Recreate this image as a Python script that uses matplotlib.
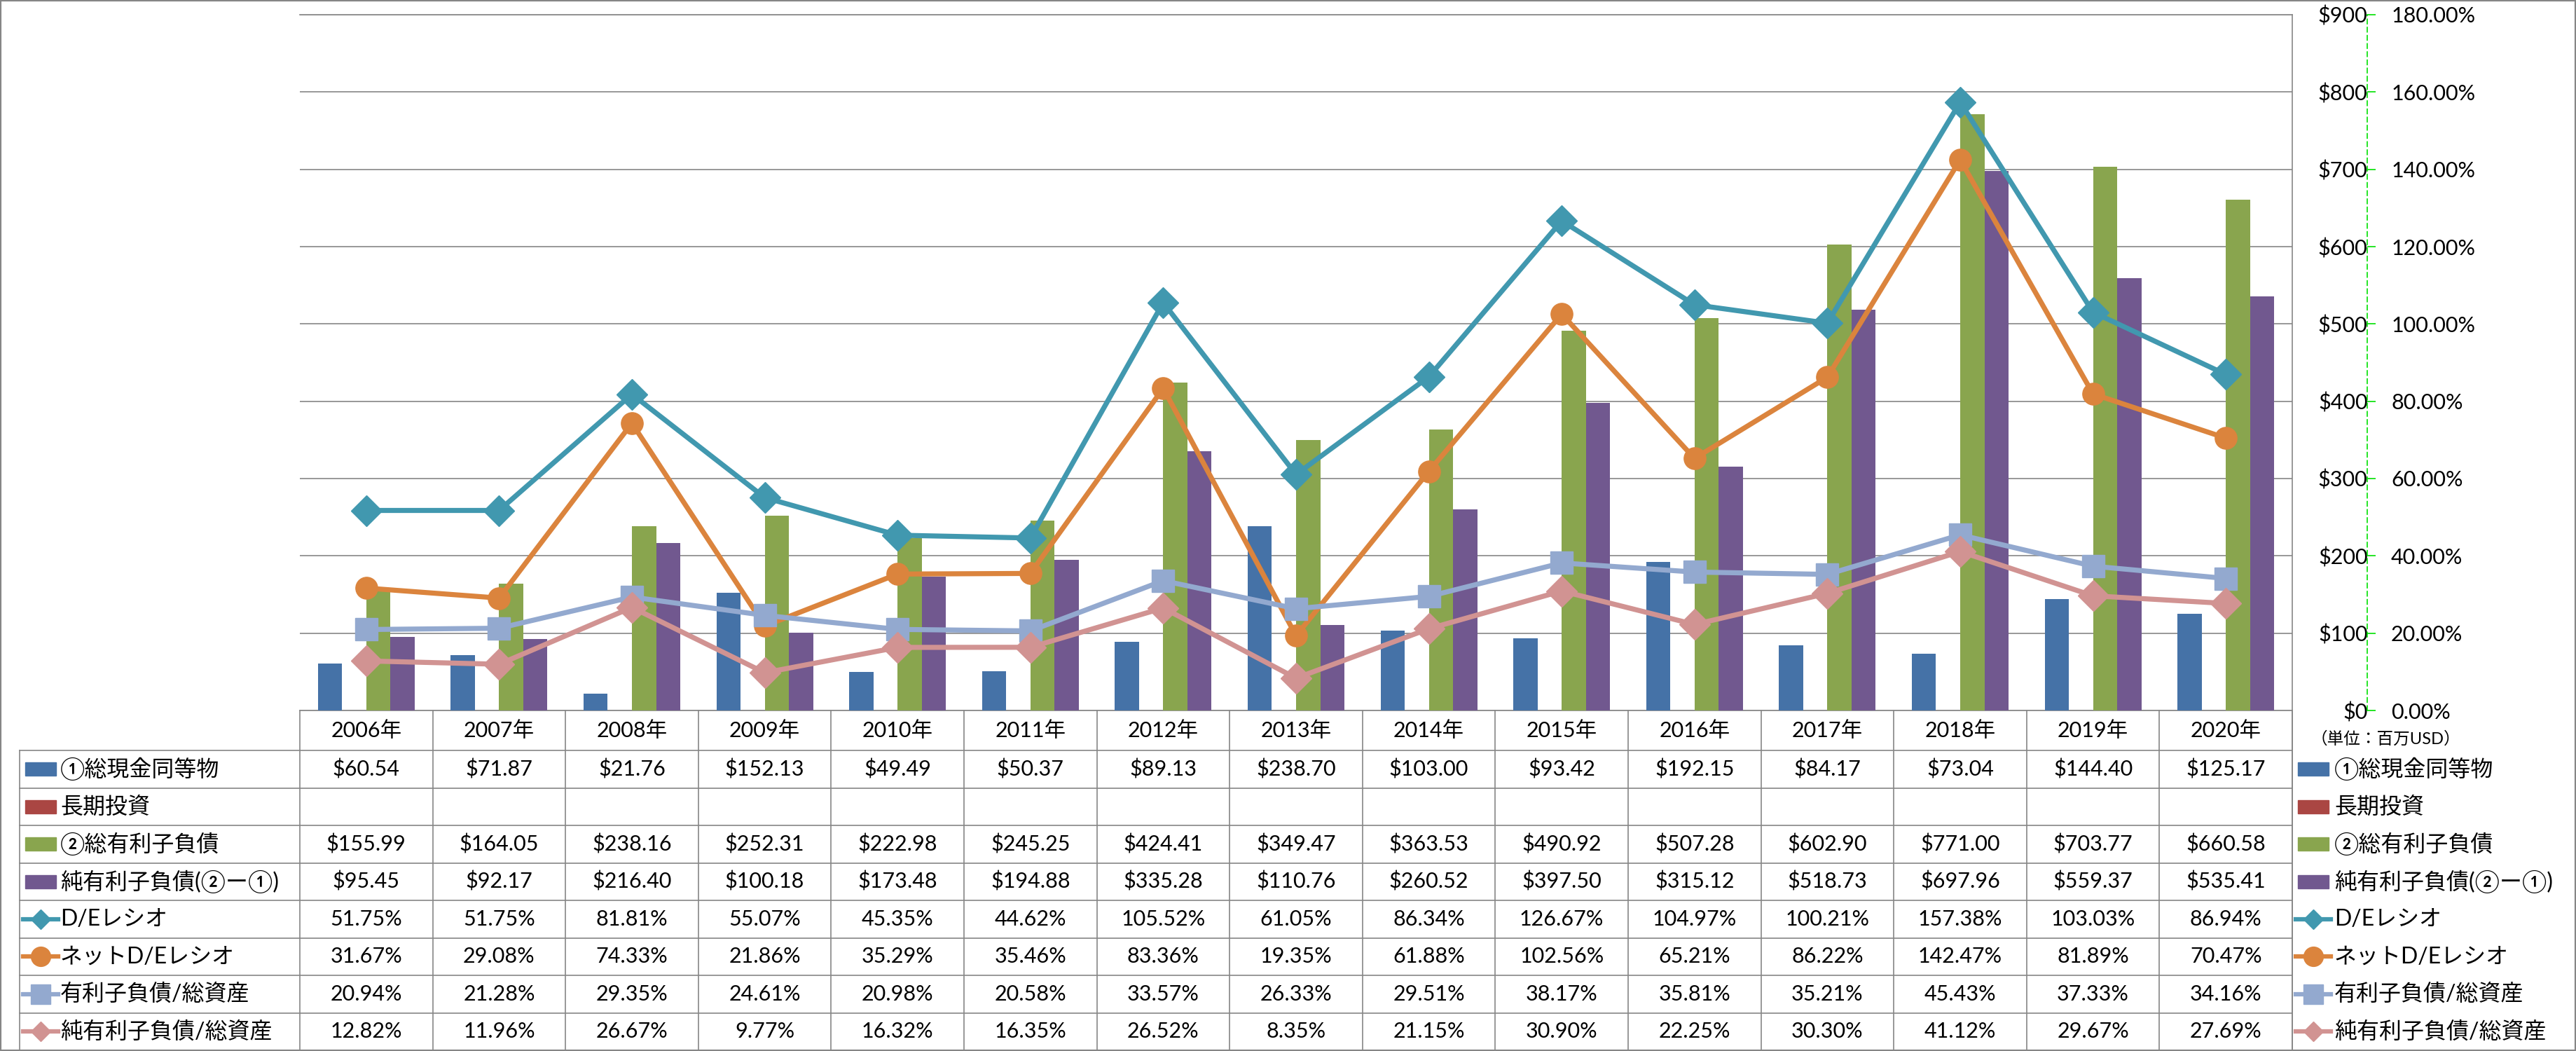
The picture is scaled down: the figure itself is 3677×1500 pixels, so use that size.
import matplotlib.pyplot as plt
import matplotlib.transforms as mtransforms
from matplotlib.lines import Line2D
from matplotlib.patches import Rectangle
import numpy as np

plt.rcParams['font.family'] = ['Lato', 'Noto Sans CJK JP', 'DejaVu Sans']

# データ（単位：百万USD / %）
years = ['2006年', '2007年', '2008年', '2009年', '2010年', '2011年', '2012年', '2013年',
         '2014年', '2015年', '2016年', '2017年', '2018年', '2019年', '2020年']
cash = [60.54, 71.87, 21.76, 152.13, 49.49, 50.37, 89.13, 238.70,
        103.00, 93.42, 192.15, 84.17, 73.04, 144.40, 125.17]
lt_invest = [np.nan] * 15
debt = [155.99, 164.05, 238.16, 252.31, 222.98, 245.25, 424.41, 349.47,
        363.53, 490.92, 507.28, 602.90, 771.00, 703.77, 660.58]
net_debt = [95.45, 92.17, 216.40, 100.18, 173.48, 194.88, 335.28, 110.76,
            260.52, 397.50, 315.12, 518.73, 697.96, 559.37, 535.41]
de_ratio = [51.75, 51.75, 81.81, 55.07, 45.35, 44.62, 105.52, 61.05,
            86.34, 126.67, 104.97, 100.21, 157.38, 103.03, 86.94]
net_de_ratio = [31.67, 29.08, 74.33, 21.86, 35.29, 35.46, 83.36, 19.35,
                61.88, 102.56, 65.21, 86.22, 142.47, 81.89, 70.47]
debt_assets = [20.94, 21.28, 29.35, 24.61, 20.98, 20.58, 33.57, 26.33,
               29.51, 38.17, 35.81, 35.21, 45.43, 37.33, 34.16]
net_debt_assets = [12.82, 11.96, 26.67, 9.77, 16.32, 16.35, 26.52, 8.35,
                   21.15, 30.90, 22.25, 30.30, 41.12, 29.67, 27.69]

bar_names = ['①総現金同等物', '長期投資', '②総有利子負債', '純有利子負債(②ー①)']
bar_colors = ['#4572A7', '#AA4643', '#89A54E', '#71588F']
line_names = ['D/Eレシオ', 'ネットD/Eレシオ', '有利子負債/総資産', '純有利子負債/総資産']
line_colors = ['#4198AF', '#DB843D', '#93A9CF', '#D19392']
line_markers = ['D', 'o', 's', 'D']

W, H = 3677, 1500
fig = plt.figure(figsize=(W / 100, H / 100), dpi=100)

def fx(x):
    return x / W

def fy(y):
    return 1 - y / H

grid_c = '#868686'
ax = fig.add_axes([fx(428), fy(1014), fx(3272) - fx(428), (1014 - 21) / H])
ax2 = ax.twinx()

x = np.arange(len(years))
bw = 0.182
bar_series = [cash, lt_invest, debt, net_debt]
for k, (vals, c) in enumerate(zip(bar_series, bar_colors)):
    ax.bar(x + (k - 1.5) * bw, vals, bw, color=c, zorder=3)

ax.set_xlim(-0.5, len(years) - 0.5)
ax.set_ylim(0, 900)
ticks = np.arange(0, 901, 100)
ax.set_yticks(ticks)
ax.set_yticklabels(['$%d' % t for t in ticks])
ax.tick_params(axis='y', left=False, right=False, labelleft=False, labelright=True,
               pad=74, labelsize=22)
for tk in ax.yaxis.get_major_ticks():
    tk.label2.set_horizontalalignment('right')
ax.set_xticks([])
ax.yaxis.grid(True, color=grid_c, lw=1.2, zorder=0)
for s in ['left', 'right']:
    ax.spines[s].set_visible(False)
for s in ['top', 'bottom']:
    ax.spines[s].set_color(grid_c)
    ax.spines[s].set_linewidth(1.2)

ax2.set_ylim(0, 180)
pticks = np.arange(0, 181, 20)
ax2.set_yticks(pticks, labels=['%.2f%%' % t for t in pticks])
for s in ['left', 'top', 'bottom']:
    ax2.spines[s].set_visible(False)
ax2.spines['right'].set_position(('outward', 77))
ax2.spines['right'].set_color('#00E000')
ax2.spines['right'].set_linestyle((0, (4, 3)))
ax2.spines['right'].set_linewidth(1.2)
ax2.tick_params(axis='y', direction='out', length=8.6, width=1.2, color='#00E000',
                pad=16, labelsize=22)
line_series = [de_ratio, net_de_ratio, debt_assets, net_debt_assets]
for vals, c, m in zip(line_series, line_colors, line_markers):
    ax2.plot(x, vals, color=c, lw=5.2, marker=m, ms=22.5, mec=c, zorder=4)

fig.text(fx(3405), fy(1054), '（単位：百万USD）', ha='center', va='center', fontsize=17)

# データテーブル
tr = mtransforms.blended_transform_factory(ax.transData, fig.transFigure)
row_top, row_h = 1071, 53.5
nrows = 8
for i, yl in enumerate(years):
    ax.text(i, fy(1042.5), yl, transform=tr, ha='center', va='center', fontsize=22,
            clip_on=False)

rows = [
    ['$%.2f' % v for v in cash],
    ['' for _ in lt_invest],
    ['$%.2f' % v for v in debt],
    ['$%.2f' % v for v in net_debt],
    ['%.2f%%' % v for v in de_ratio],
    ['%.2f%%' % v for v in net_de_ratio],
    ['%.2f%%' % v for v in debt_assets],
    ['%.2f%%' % v for v in net_debt_assets],
]
for r, vals in enumerate(rows):
    yc = fy(row_top + (r + 0.5) * row_h)
    for i, s in enumerate(vals):
        ax.text(i, yc, s, transform=tr, ha='center', va='center', fontsize=22, clip_on=False)

# 罫線
for r in range(nrows):
    yy = fy(row_top + r * row_h)
    fig.add_artist(Line2D([fx(28), fx(3272)], [yy, yy], color=grid_c, lw=1.2))
fig.add_artist(Line2D([fx(28), fx(28)], [fy(row_top), fy(1499)], color=grid_c, lw=1.2))
for i in range(len(years) + 1):
    fig.add_artist(Line2D([i - 0.5, i - 0.5], [fy(1014), fy(1499)], transform=tr,
                          color=grid_c, lw=1.2))
fig.add_artist(Line2D([fx(3272), fx(3272)], [fy(21), fy(1499)], color=grid_c, lw=1.2))

# 凡例キー（表の左と右）
names = bar_names + line_names
for r, name in enumerate(names):
    ycp = row_top + (r + 0.5) * row_h
    for kx, tx in [(36, 86), (3280, 3332)]:
        if r < 4:
            fig.add_artist(Rectangle((fx(kx), fy(ycp + 9.5)), fx(44), 19 / H,
                                     transform=fig.transFigure, color=bar_colors[r]))
        else:
            c = line_colors[r - 4]
            m = line_markers[r - 4]
            fig.add_artist(Line2D([fx(kx - 3), fx(kx + 47)], [fy(ycp), fy(ycp)], color=c,
                                  lw=4.5))
            fig.add_artist(Line2D([fx(kx + 22)], [fy(ycp)], color=c, lw=0, marker=m,
                                  ms=14 if m == 'D' else 20, mec=c))
        fig.text(fx(tx), fy(ycp), name, ha='left', va='center', fontsize=23)

# 外枠
fig.add_artist(Rectangle((0, 0), 1, 1, transform=fig.transFigure, fill=False,
                         edgecolor=grid_c, lw=3))

fig.savefig('out.png', dpi=100)
